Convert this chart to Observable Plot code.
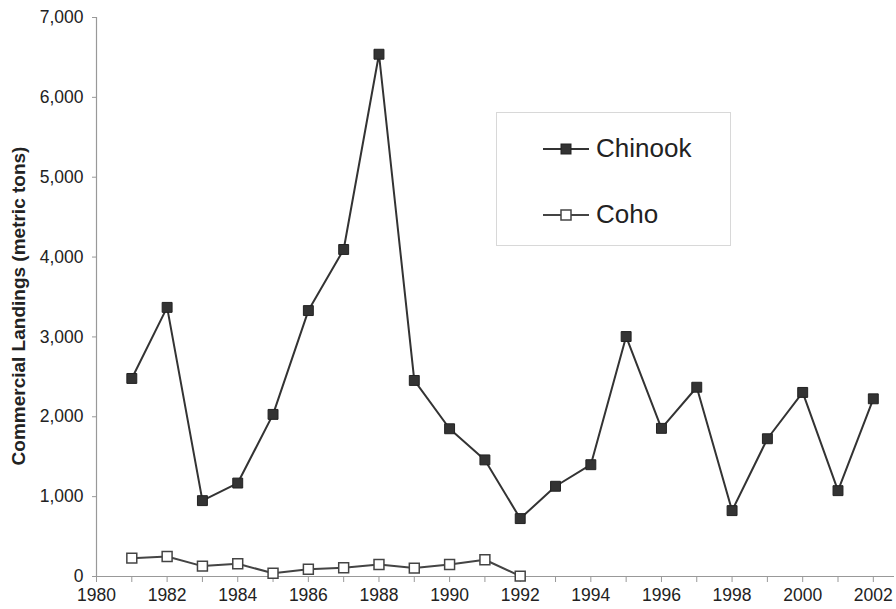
<!DOCTYPE html>
<html>
<head>
<meta charset="utf-8">
<script src="https://cdn.jsdelivr.net/npm/d3@7"></script>
<script src="https://cdn.jsdelivr.net/npm/@observablehq/plot@0.6"></script>
<style>
  html, body { margin: 0; padding: 0; background: #fff; }
  #wrap { position: relative; width: 896px; height: 609px; font-family: "Liberation Sans", Arial, sans-serif; }
  #legend { position: absolute; left: 496px; top: 112px; width: 235px; height: 134px; border: 1px solid #d8d8d8; background: #fff; box-sizing: border-box; }
  .row { position: absolute; left: 45px; display: flex; align-items: center; font-size: 26px; color: #222; }
  .row svg { margin-right: 6px; }
</style>
</head>
<body>
<div id="wrap"></div>
<script>
const years = [1981,1982,1983,1984,1985,1986,1987,1988,1989,1990,1991,1992,1993,1994,1995,1996,1997,1998,1999,2000,2001,2002];
const chinook = [2480,3370,950,1170,2030,3330,4095,6540,2455,1850,1460,725,1130,1400,3005,1855,2370,825,1725,2305,1075,2225];
const cohoYears = [1981,1982,1983,1984,1985,1986,1987,1988,1989,1990,1991,1992];
const coho = [230,250,130,160,40,90,110,150,105,150,210,5];
const xTicks = d3.range(1980, 2003);
const yTicks = [0,1000,2000,3000,4000,5000,6000,7000];
const seriesNames = ["Chinook", "Coho"];
const yTitle = "Commercial Landings (metric tons)";

const chinookData = years.map((x, i) => ({x, y: chinook[i]}));
const cohoData = cohoYears.map((x, i) => ({x, y: coho[i]}));

const chart = Plot.plot({
  width: 896,
  height: 609,
  marginLeft: 96,
  marginRight: 2,
  marginTop: 17,
  marginBottom: 33,
  style: {fontFamily: "'Liberation Sans', Arial, sans-serif", fontSize: "17px", color: "#222", background: "#fff"},
  x: {domain: [1980, 2002.6]},
  y: {domain: [0, 7000]},
  marks: [
    Plot.axisY({ticks: yTicks, tickSize: 4, tickPadding: 9, tickFormat: d3.format(","), label: null, stroke: "#999", fontSize: 17.5}),
    Plot.axisX({ticks: xTicks, tickSize: 6, tickPadding: 6, tickFormat: d => d % 2 === 0 ? String(d) : "", label: null, stroke: "#999", fontSize: 17.5}),
    Plot.ruleX([1980], {stroke: "#999", strokeWidth: 1.2}),
    Plot.ruleY([0], {stroke: "#999", strokeWidth: 1.2}),
    Plot.text([yTitle], {frameAnchor: "left", textAnchor: "middle", dx: -78, dy: 9, rotate: -90, fontWeight: "bold", fontSize: 19, fill: "#222"}),
    Plot.line(chinookData, {x: "x", y: "y", stroke: "#333", strokeWidth: 2}),
    Plot.dot(chinookData, {x: "x", y: "y", symbol: "square", r: 5.6, fill: "#333", stroke: "#222", strokeWidth: 1}),
    Plot.line(cohoData, {x: "x", y: "y", stroke: "#444", strokeWidth: 2}),
    Plot.dot(cohoData, {x: "x", y: "y", symbol: "square", r: 5.6, fill: "#fff", stroke: "#444", strokeWidth: 1.5})
  ]
});

const wrap = document.getElementById("wrap");
wrap.appendChild(chart);

const legend = document.createElement("div");
legend.id = "legend";
legend.innerHTML = `
  <div class="row" style="top:20px;">
    <svg width="48" height="14"><line x1="1" y1="7" x2="47" y2="7" stroke="#333" stroke-width="2"/><rect x="19" y="2" width="10" height="10" fill="#333" stroke="#222"/></svg>${seriesNames[0]}
  </div>
  <div class="row" style="top:86px;">
    <svg width="48" height="14"><line x1="1" y1="7" x2="47" y2="7" stroke="#444" stroke-width="2"/><rect x="19" y="2" width="10" height="10" fill="#fff" stroke="#444" stroke-width="1.5"/></svg>${seriesNames[1]}
  </div>`;
wrap.appendChild(legend);
</script>
</body>
</html>
